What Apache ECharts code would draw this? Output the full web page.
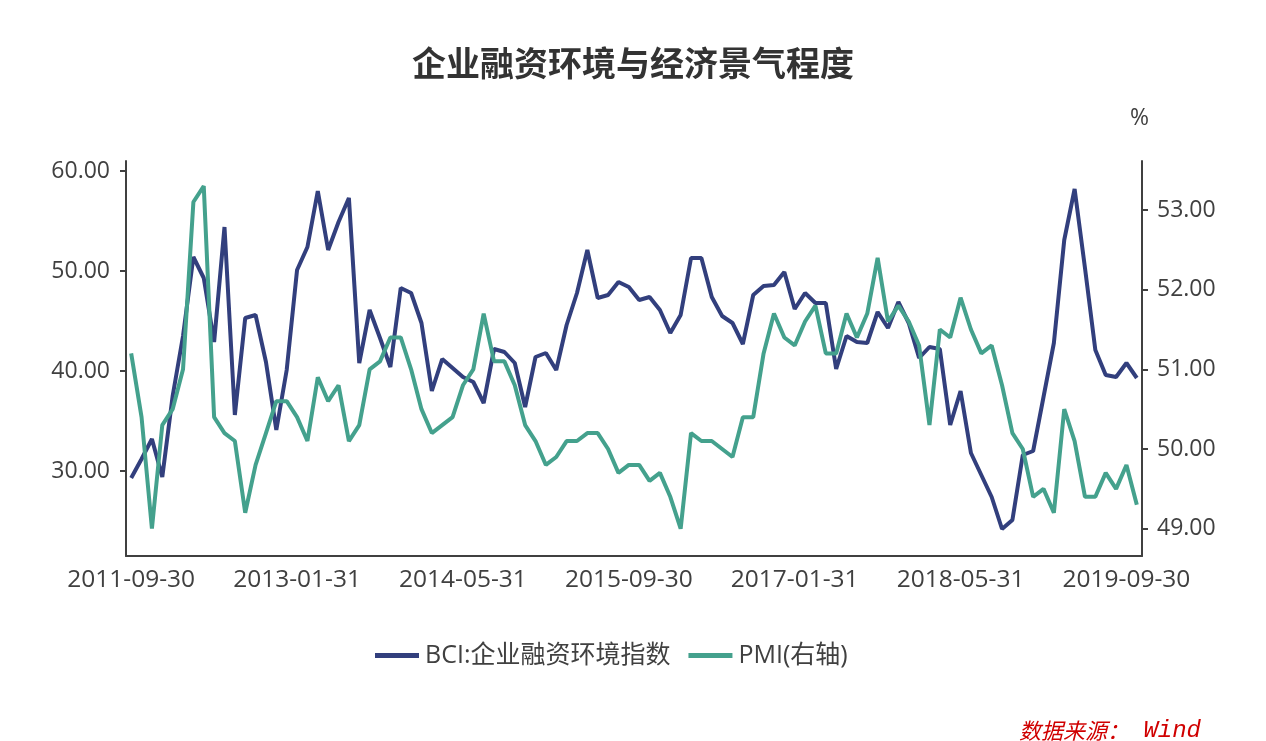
<!DOCTYPE html>
<html>
<head>
<meta charset="utf-8">
<script src="https://cdn.jsdelivr.net/npm/echarts@6/dist/echarts.min.js"></script>
<style>
html,body{margin:0;padding:0;background:#fff;}
#chart{width:1266px;height:741px;}
</style>
</head>
<body>
<div id="chart"></div>
<script>
// Month-end dates from 2011-09 to 2019-10
const startYear = 2011, startMonth = 9, monthCount = 98;
const categories = [];
for (let k = 0; k < monthCount; k++) {
  const m0 = startMonth - 1 + k;
  const y = startYear + Math.floor(m0 / 12);
  const m = (m0 % 12) + 1;
  const d = new Date(y, m, 0).getDate();
  categories.push(y + '-' + String(m).padStart(2, '0') + '-' + String(d).padStart(2, '0'));
}

const bciName = 'BCI:企业融资环境指数';
const pmiName = 'PMI(右轴)';

const bciValues = [
  29.3, 31.2, 33.2, 29.4, 37.5, 43.5, 51.4, 49.3, 42.9, 54.4, 35.6, 45.3,
  45.6, 40.9, 34.1, 40.1, 50.1, 52.4, 58.0, 52.1, 54.9, 57.3, 40.8, 46.1,
  43.3, 40.4, 48.3, 47.8, 44.8, 38.0, 41.2, 40.3, 39.4, 38.9, 36.8, 42.2,
  41.9, 40.8, 36.4, 41.4, 41.8, 40.1, 44.6, 47.8, 52.1, 47.3, 47.6, 48.9,
  48.4, 47.1, 47.4, 46.1, 43.8, 45.6, 51.3, 51.3, 47.4, 45.5, 44.8, 42.7,
  47.6, 48.5, 48.6, 49.9, 46.2, 47.8, 46.8, 46.8, 40.2, 43.5, 42.9, 42.8,
  45.9, 44.3, 46.9, 44.8, 41.3, 42.4, 42.2, 34.6, 38.0, 31.8, 29.6, 27.4,
  24.2, 25.1, 31.6, 32.0, 37.4, 42.8, 53.1, 58.2, 50.3, 42.1, 39.6, 39.4,
  40.8, 39.3
];

const pmiValues = [
  51.2, 50.4, 49.0, 50.3,
  50.5, 51.0, 53.1, 53.3, 50.4, 50.2, 50.1, 49.2, 49.8, 50.2, 50.6, 50.6,
  50.4, 50.1, 50.9, 50.6, 50.8, 50.1, 50.3, 51.0, 51.1, 51.4, 51.4, 51.0,
  50.5, 50.2, 50.3, 50.4, 50.8, 51.0, 51.7, 51.1, 51.1, 50.8, 50.3, 50.1,
  49.8, 49.9, 50.1, 50.1, 50.2, 50.2, 50.0, 49.7, 49.8, 49.8, 49.6, 49.7,
  49.4, 49.0, 50.2, 50.1, 50.1, 50.0, 49.9, 50.4, 50.4, 51.2, 51.7, 51.4,
  51.3, 51.6, 51.8, 51.2, 51.2, 51.7, 51.4, 51.7, 52.4, 51.6, 51.8, 51.6,
  51.3, 50.3, 51.5, 51.4, 51.9, 51.5, 51.2, 51.3, 50.8, 50.2, 50.0, 49.4,
  49.5, 49.2, 50.5, 50.1, 49.4, 49.4, 49.7, 49.5, 49.8, 49.3
];

const leftTicks = [30, 40, 50, 60];
const rightTicks = [49, 50, 51, 52, 53];

const navy = '#323f7d';
const teal = '#44a18d';
const axisColor = '#404040';
const textColor = '#404040';
const fontFam = '"Open Sans", "Noto Sans CJK SC", sans-serif';

const chart = echarts.init(document.getElementById('chart'), null, {renderer: 'canvas'});
chart.setOption({
  backgroundColor: '#ffffff',
  animation: false,
  title: {
    text: '企业融资环境与经济景气程度',
    left: 'center',
    top: 41,
    textStyle: {fontSize: 34, fontWeight: 'bold', color: '#333333', fontFamily: '"Noto Sans CJK SC", sans-serif'}
  },
  legend: {
    left: 370,
    top: 638,
    itemWidth: 44,
    itemHeight: 5,
    itemGap: 18,
    icon: 'rect',
    textStyle: {fontSize: 25, color: textColor, fontFamily: fontFam, padding: [0, 0, 0, 1]},
    data: [bciName, pmiName]
  },
  graphic: [
    {type: 'text', left: 1130, top: 107, style: {text: '%', fontSize: 23, fill: textColor, fontFamily: fontFam}},
    {type: 'text', left: 1019, top: 719, style: {
      text: '{a|数据来源：}{b| Wind}',
      rich: {
        a: {fontSize: 22, fontStyle: 'italic', fill: '#d00000', fontFamily: '"Noto Sans CJK SC", sans-serif'},
        b: {fontSize: 24, fontStyle: 'italic', fill: '#d00000', fontFamily: '"Liberation Mono", monospace'}
      }
    }}
  ],
  grid: {left: 126, right: 124, top: 161, bottom: 185},
  xAxis: {
    type: 'category',
    data: categories,
    boundaryGap: true,
    axisLine: {lineStyle: {color: axisColor, width: 2}},
    axisTick: {interval: 15, alignWithLabel: true, length: 6, lineStyle: {color: axisColor, width: 2}},
    axisLabel: {interval: 15, margin: 12, fontSize: 24.5, color: textColor, fontFamily: fontFam},
    splitLine: {show: false}
  },
  yAxis: [
    {
      type: 'value',
      min: 21.5,
      max: 61,
      axisLine: {show: true, lineStyle: {color: axisColor, width: 2}},
      axisTick: {show: true, customValues: leftTicks, length: 6, lineStyle: {color: axisColor, width: 2}},
      axisLabel: {customValues: leftTicks, margin: 16, fontSize: 23, color: textColor, fontFamily: fontFam,
                  formatter: v => Number(v).toFixed(2)},
      splitLine: {show: false}
    },
    {
      type: 'value',
      position: 'right',
      min: 48.657,
      max: 53.615,
      axisLine: {show: true, lineStyle: {color: axisColor, width: 2}},
      axisTick: {show: true, customValues: rightTicks, length: 6, lineStyle: {color: axisColor, width: 2}},
      axisLabel: {customValues: rightTicks, margin: 15, fontSize: 23, color: textColor, fontFamily: fontFam,
                  formatter: v => Number(v).toFixed(2)},
      splitLine: {show: false}
    }
  ],
  series: [
    {name: bciName, type: 'line', yAxisIndex: 0, data: bciValues, symbol: 'none',
     lineStyle: {color: navy, width: 4}, itemStyle: {color: navy}},
    {name: pmiName, type: 'line', yAxisIndex: 1, data: pmiValues, symbol: 'none',
     lineStyle: {color: teal, width: 4}, itemStyle: {color: teal}}
  ]
});
</script>
</body>
</html>
